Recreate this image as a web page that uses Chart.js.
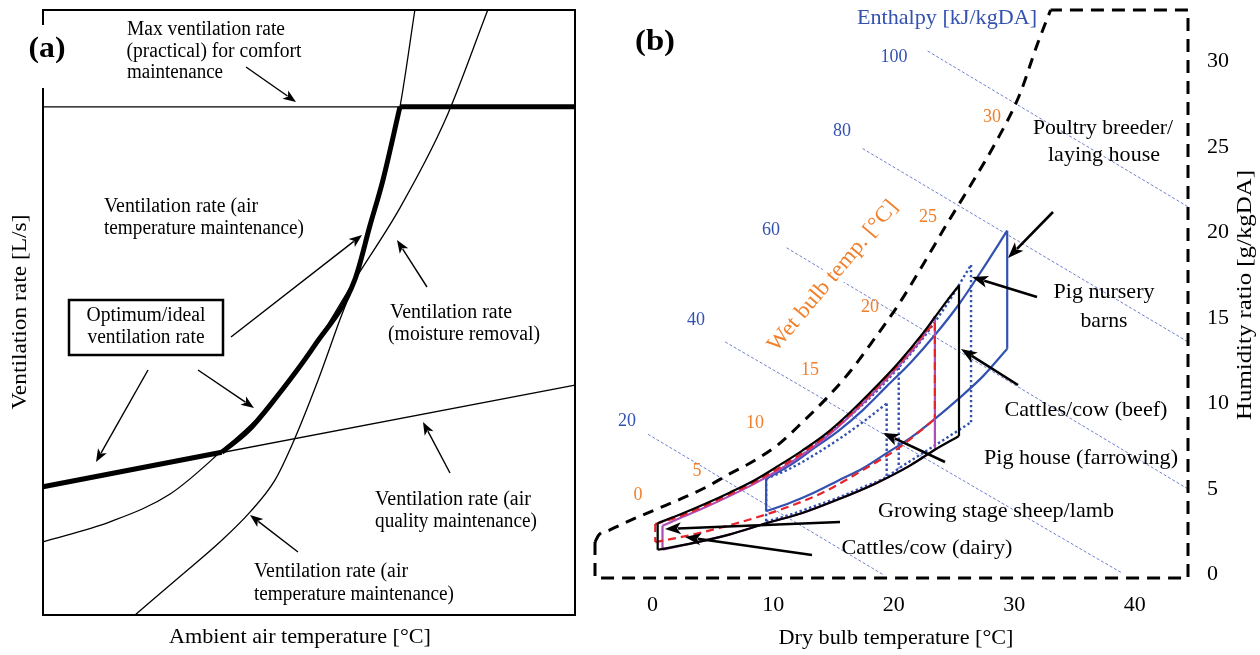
<!DOCTYPE html>
<html>
<head>
<meta charset="utf-8">
<script src="https://cdn.jsdelivr.net/npm/chart.js@4.4.1/dist/chart.umd.min.js"></script>
<style>
html, body { margin: 0; padding: 0; background: #fff; }
#wrap { position: relative; width: 1260px; height: 655px; overflow: hidden; }
canvas { position: absolute; top: 0; }
#ca { left: 0; }
#cb { left: 590px; }
</style>
</head>
<body>
<div id="wrap">
  <canvas id="ca" width="590" height="655"></canvas>
  <canvas id="cb" width="670" height="655"></canvas>
</div>
<script>
// ---------- panel (a): conceptual ventilation rate curves (relative units 0-100) ----------
const moistureX = [0, 12.6, 23.9, 33.8, 42.7, 51.1, 58.6, 67.1, 75.6, 83.6];
const moistureY = [12.1, 15.4, 20.0, 27.3, 34.7, 44.6, 55.4, 67.3, 81.8, 100];
const temperatureX = [17.3, 25.8, 33.3, 38.9, 43.6, 46.8, 51.7, 55.8, 58.6, 61.5, 63.9, 67.1, 69.9];
const temperatureY = [0, 6.4, 12.1, 17.0, 22.3, 28.1, 38.8, 48.8, 55.4, 64.5, 71.9, 84.0, 100];
const airQualityX = [0, 100];
const airQualityY = [21.2, 38.0];
const maxRateX = [0, 100];
const maxRateY = [84, 84];
const optimumLowX = [0, 33.6];
const optimumLowY = [21.2, 26.9];
const optimumX = [33.6, 38.5, 42.7, 51.1, 58.6, 61.5, 63.9, 67.1];
const optimumY = [26.9, 30.4, 34.7, 44.6, 55.4, 64.5, 71.9, 84.0];
const optimumTopX = [67.1, 100];
const optimumTopY = [84, 84];

// ---------- panel (b): psychrometric chart, dry bulb [°C] vs humidity ratio [g/kgDA] ----------
const frameT = [-4.2, -4.2, 45, 45, 33.6];
const frameW = [1.9, -0.2, -0.2, 33, 33];
const satT = [-4.2, -3.9, -3, -1, 1, 3, 5, 7, 9, 11, 13, 15, 17, 19, 21, 23, 25, 27, 29, 31, 32.5, 33.6];
const satW = [1.9, 2.3, 2.6, 3.25, 3.85, 4.45, 5.1, 5.9, 6.65, 7.6, 8.9, 10.3, 11.9, 13.8, 15.8, 18.1, 20.5, 22.8, 25.2, 28.0, 31.0, 33];

const enthalpyValues = [20, 40, 60, 80, 100];
const enthStartT = [0.2, 6.6, 11.7, 18.0, 23.4];
const enthStartW = [8.2, 13.6, 19.1, 24.9, 30.6];
const enthEndT = [19.7, 39.5, 45, 45, 45];
const enthEndW = [0, 0.1, 5.0, 13.6, 21.5];
const wetBulbValues = [0, 5, 10, 15, 20, 25, 30];

// cattles/cow (beef) - black
const beefUpT = [1, 3, 5, 7, 9, 11, 13, 15, 17, 19, 21, 23, 25, 26];
const beefUpW = [3.0, 3.55, 4.15, 4.8, 5.5, 6.35, 7.25, 8.25, 9.5, 10.9, 12.4, 14.1, 16.0, 16.9];
const beefLowT = [1, 4, 7, 10, 13, 16, 19, 22, 24, 26];
const beefLowW = [1.45, 1.85, 2.35, 3.0, 3.6, 4.4, 5.3, 6.4, 7.3, 8.1];
// growing stage sheep/lamb - magenta
const sheepUpT = [1.4, 3, 5, 7, 9, 11, 13, 15, 17, 19, 21, 23, 24];
const sheepUpW = [2.85, 3.35, 3.95, 4.6, 5.3, 6.1, 7.0, 8.05, 9.3, 10.7, 12.2, 13.9, 15.1];
const sheepLowT = [1.4, 4, 7, 10, 13, 16, 19, 22, 24];
const sheepLowW = [1.45, 1.85, 2.35, 3.0, 3.6, 4.4, 5.3, 6.4, 7.3];
// cattles/cow (dairy) - red dashed
const dairyUpT = [0.8, 3, 5, 7, 9, 11, 13, 15, 17, 19, 21, 23, 24];
const dairyUpW = [2.95, 3.45, 4.05, 4.7, 5.4, 6.2, 7.1, 8.15, 9.4, 10.8, 12.3, 14.0, 14.7];
const dairyLowT = [0.8, 3, 6, 9, 12, 15, 18, 21, 24];
const dairyLowW = [1.9, 2.2, 2.7, 3.3, 4.0, 4.9, 6.1, 7.4, 9.1];
// poultry breeder/laying house - blue
const poultryUpT = [10, 12, 14, 16, 18, 20, 22, 24, 26, 28, 30];
const poultryUpW = [5.6, 6.4, 7.4, 8.4, 9.6, 11.0, 12.4, 14.0, 15.8, 17.9, 20.1];
const poultryLowT = [10, 12, 14, 16, 18, 20, 22, 24, 26, 28, 30];
const poultryLowW = [3.7, 4.2, 4.8, 5.5, 6.2, 7.1, 8.0, 9.1, 10.3, 11.6, 13.2];
// pig nursery barns / pig house (farrowing) - blue dotted
const pigUpT = [10, 13, 16, 19, 21, 23, 25, 27];
const pigUpW = [5.6, 7.0, 8.7, 10.6, 12.1, 13.8, 15.8, 18.1];
const pigLowT = [10, 12, 14, 16, 18, 20, 21, 23, 25, 27];
const pigLowW = [3.1, 3.5, 4.0, 4.5, 5.1, 5.7, 6.2, 7.1, 8.0, 8.9];
const farrowUpT = [10, 12, 14, 16, 18, 20];
const farrowUpW = [5.6, 6.2, 7.0, 7.9, 8.9, 10.0];

// ---------- helpers ----------
const SERIF = '"Liberation Serif", "Times New Roman", serif';

function seg(xs, ys, color, width, dash, smooth) {
  return {
    data: xs.map((x, i) => ({ x: x, y: ys[i] })),
    showLine: true,
    borderColor: color,
    borderWidth: width,
    borderDash: dash || [],
    pointRadius: 0,
    pointHoverRadius: 0,
    clip: false,
    tension: 0,
    cubicInterpolationMode: smooth ? 'monotone' : 'default'
  };
}

function region(upT, upW, lowT, lowW, color, width, dash) {
  const n = upT.length - 1, m = lowT.length - 1;
  return [
    seg(upT, upW, color, width, dash, true),
    seg(lowT, lowW, color, width, dash, true),
    seg([upT[0], lowT[0]], [upW[0], lowW[0]], color, width, dash),
    seg([upT[n], lowT[m]], [upW[n], lowW[m]], color, width, dash)
  ];
}

function txt(ctx, s, cx, cy, size, width, o) {
  o = o || {};
  ctx.save();
  ctx.font = (o.bold ? 'bold ' : '') + size + 'px ' + SERIF;
  ctx.textAlign = 'center';
  ctx.textBaseline = 'middle';
  ctx.translate(cx, cy);
  if (o.rot) ctx.rotate(o.rot);
  const w = ctx.measureText(s).width;
  if (width) ctx.scale(width / w, 1);
  if (o.bg) {
    ctx.fillStyle = '#fff';
    ctx.fillRect(-w / 2 - 3, -size * 0.55, w + 6, size * 1.1);
  }
  ctx.fillStyle = o.color || '#000';
  ctx.fillText(s, 0, 0);
  ctx.restore();
}

function arrow(ctx, x1, y1, x2, y2, lw, head, hw) {
  const a = Math.atan2(y2 - y1, x2 - x1);
  ctx.save();
  ctx.strokeStyle = '#000';
  ctx.fillStyle = '#000';
  ctx.lineWidth = lw;
  ctx.beginPath();
  ctx.moveTo(x1, y1);
  ctx.lineTo(x2 - Math.cos(a) * head * 0.8, y2 - Math.sin(a) * head * 0.8);
  ctx.stroke();
  ctx.beginPath();
  ctx.moveTo(x2, y2);
  ctx.lineTo(x2 - Math.cos(a) * head - Math.sin(a) * hw, y2 - Math.sin(a) * head + Math.cos(a) * hw);
  ctx.lineTo(x2 - Math.cos(a) * head * 0.75, y2 - Math.sin(a) * head * 0.75);
  ctx.lineTo(x2 - Math.cos(a) * head + Math.sin(a) * hw, y2 - Math.sin(a) * head - Math.cos(a) * hw);
  ctx.closePath();
  ctx.fill();
  ctx.restore();
}

// ---------- panel (a) ----------
const textsA = [
  ['Max ventilation rate', 206, 30, 20, 158],
  ['(practical) for comfort', 214, 52, 20, 175],
  ['maintenance', 175, 73, 20, 96],
  ['Ventilation rate (air', 181, 207, 20, 154],
  ['temperature maintenance)', 204, 229, 20, 200],
  ['Ventilation rate', 451, 313, 20, 122],
  ['(moisture removal)', 464, 335, 20, 152],
  ['Optimum/ideal', 146, 316, 20, 119],
  ['ventilation rate', 146, 338, 20, 117],
  ['Ventilation rate (air', 453, 500, 20, 156],
  ['quality maintenance)', 456, 522, 20, 162],
  ['Ventilation rate (air', 331, 572, 20, 154],
  ['temperature maintenance)', 354, 595, 20, 200],
  ['Ambient air temperature [°C]', 300, 637, 22, 262]
];
const arrowsA = [
  [246, 67, 296, 102], [231, 337, 362, 235], [427, 287, 397, 240],
  [198, 370, 254, 408], [148, 370, 96, 462], [450, 473, 423, 422], [298, 552, 250, 515]
];

const decorA = {
  id: 'decorA',
  afterDatasetsDraw(chart) {
    const ctx = chart.ctx, ca = chart.chartArea;
    ctx.save();
    ctx.strokeStyle = '#000';
    ctx.lineWidth = 2;
    ctx.strokeRect(ca.left, ca.top, ca.right - ca.left, ca.bottom - ca.top);
    ctx.fillStyle = '#fff';
    ctx.fillRect(26, 25, 42, 63);
    ctx.lineWidth = 2.5;
    ctx.strokeRect(69, 300, 154, 55);
    ctx.restore();
    textsA.forEach(t => txt(ctx, t[0], t[1], t[2], t[3], t[4]));
    txt(ctx, 'Ventilation rate [L/s]', 20, 312, 22, 195, { rot: -Math.PI / 2 });
    txt(ctx, '(a)', 47, 50, 29, 37, { bold: true });
    arrowsA.forEach(a => arrow(ctx, a[0], a[1], a[2], a[3], 1.4, 13, 5));
  }
};

new Chart(document.getElementById('ca'), {
  type: 'scatter',
  data: {
    datasets: [
      seg(optimumLowX, optimumLowY, '#000', 5),
      seg(optimumX, optimumY, '#000', 5, null, true),
      seg(optimumTopX, optimumTopY, '#000', 5),
      seg(moistureX, moistureY, '#000', 1.3, null, true),
      seg(temperatureX, temperatureY, '#000', 1.3, null, true),
      seg(airQualityX, airQualityY, '#000', 1.3),
      seg(maxRateX, maxRateY, '#000', 1.3)
    ]
  },
  options: {
    responsive: false,
    animation: false,
    events: [],
    layout: { padding: { left: 43, right: 15, top: 10, bottom: 40 } },
    plugins: { legend: { display: false }, tooltip: { enabled: false } },
    scales: {
      x: { type: 'linear', min: 0, max: 100, display: false },
      y: { type: 'linear', min: 0, max: 100, display: false }
    }
  },
  plugins: [decorA]
});

// ---------- panel (b) ----------
const OFF = 590;
const BLUE = '#3352b0';
const ORANGE = '#f0802c';
const wetLabelPos = [[638, 495], [697, 471], [755, 423], [810, 370], [870, 307], [928, 217], [992, 117]];
const enthLabelPos = [[627, 421], [696, 320], [771, 230], [842, 131], [894, 57]];
const textsB = [
  ['Poultry breeder/', 1103, 128, 22, 140],
  ['laying house', 1104, 155, 22, 112],
  ['Pig nursery', 1104, 292, 22, 101],
  ['barns', 1104, 321, 22, 47],
  ['Cattles/cow (beef)', 1086, 410, 22, 163],
  ['Pig house (farrowing)', 1081, 458, 22, 194],
  ['Growing stage sheep/lamb', 996, 511, 22, 236],
  ['Cattles/cow (dairy)', 927, 548, 22, 171],
  ['Dry bulb temperature [°C]', 896, 638, 22, 235]
];
const arrowsB = [
  [1053, 212, 1008, 258], [1037, 297, 972, 277], [1018, 385, 961, 349],
  [945, 462, 883, 433], [840, 522, 665, 529], [812, 555, 685, 537]
];

const decorB = {
  id: 'decorB',
  afterDatasetsDraw(chart) {
    const ctx = chart.ctx;
    ctx.save();
    ctx.translate(-OFF, 0);
    wetBulbValues.forEach((v, i) => txt(ctx, String(v), wetLabelPos[i][0], wetLabelPos[i][1], 18, null, { color: ORANGE }));
    enthalpyValues.forEach((v, i) => txt(ctx, String(v), enthLabelPos[i][0], enthLabelPos[i][1], 18, null, { color: BLUE }));
    txt(ctx, 'Wet bulb temp. [°C]', 833, 276, 22, 190, { color: ORANGE, rot: -50 * Math.PI / 180, bg: true });
    txt(ctx, 'Enthalpy [kJ/kgDA]', 947, 18, 21, 180, { color: BLUE });
    txt(ctx, '(b)', 655, 43, 29, 40, { bold: true });
    txt(ctx, 'Humidity ratio [g/kgDA]', 1245, 295, 22, 250, { rot: -Math.PI / 2 });
    textsB.forEach(t => txt(ctx, t[0], t[1], t[2], t[3], t[4]));
    arrowsB.forEach(a => arrow(ctx, a[0], a[1], a[2], a[3], 2.6, 16, 6));
    ctx.restore();
  }
};

const dsB = [];
dsB.push(seg(frameT, frameW, '#000', 3, [13, 8]));
dsB.push(seg(satT, satW, '#000', 3, [11, 8], true));
region(beefUpT, beefUpW, beefLowT, beefLowW, '#000', 2.2).forEach(d => dsB.push(d));
region(dairyUpT, dairyUpW, dairyLowT, dairyLowW, '#e8242a', 2.2, [8, 5]).forEach(d => dsB.push(d));
region(sheepUpT, sheepUpW, sheepLowT, sheepLowW, '#b04cb5', 2.2).forEach(d => dsB.push(d));
region(poultryUpT, poultryUpW, poultryLowT, poultryLowW, BLUE, 2.2).forEach(d => dsB.push(d));
region(pigUpT, pigUpW, pigLowT, pigLowW, BLUE, 2.4, [2.4, 2.6]).forEach(d => dsB.push(d));
dsB.push(seg(farrowUpT, farrowUpW, BLUE, 2.4, [2.4, 2.6], true));
dsB.push(seg([20, 20], [10.0, 5.7], BLUE, 2.4, [2.4, 2.6]));
dsB.push(seg([21, 21], [12.1, 6.2], BLUE, 2.4, [2.4, 2.6]));
enthalpyValues.forEach((v, i) => {
  dsB.push(seg([enthStartT[i], enthEndT[i]], [enthStartW[i], enthEndW[i]], '#4a60c4', 0.8, [3, 2]));
});

function noPad(scale) {
  scale.paddingTop = 0;
  scale.paddingBottom = 0;
  scale.paddingLeft = 0;
  scale.paddingRight = 0;
}

new Chart(document.getElementById('cb'), {
  type: 'scatter',
  data: { datasets: dsB },
  options: {
    responsive: false,
    animation: false,
    events: [],
    layout: { padding: { left: 5, right: 0, top: 10, bottom: 0 } },
    plugins: { legend: { display: false }, tooltip: { enabled: false } },
    scales: {
      x: {
        type: 'linear', position: 'bottom', min: -4.2, max: 45,
        grid: { display: false, drawTicks: false },
        border: { display: false },
        ticks: { stepSize: 10, includeBounds: false, padding: 14, labelOffset: 7, color: '#000', font: { family: SERIF, size: 22 } },
        afterFit(scale) { scale.height = 77; noPad(scale); }
      },
      y: {
        type: 'linear', position: 'right', min: -0.2, max: 33,
        grid: { display: false, drawTicks: false },
        border: { display: false },
        ticks: { stepSize: 5, includeBounds: false, padding: 19, color: '#000', font: { family: SERIF, size: 22 } },
        afterFit(scale) { scale.width = 72; noPad(scale); }
      }
    }
  },
  plugins: [decorB]
});
</script>
</body>
</html>
